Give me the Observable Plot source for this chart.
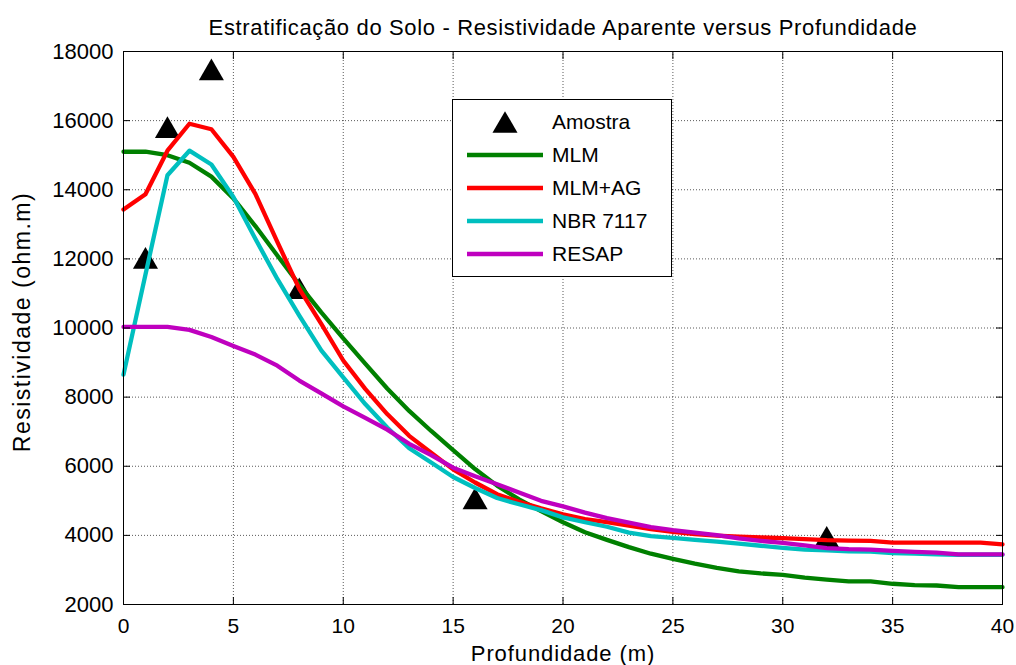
<!DOCTYPE html>
<html>
<head>
<meta charset="utf-8">
<script src="https://cdn.jsdelivr.net/npm/d3@7"></script>
<script src="https://cdn.jsdelivr.net/npm/@observablehq/plot@0.6"></script>
<style>
  body { margin: 0; background: #fff; }
  #wrap { position: relative; width: 1016px; height: 665px; overflow: hidden; }
  #legend { position: absolute; left: 452px; top: 99px; }
</style>
</head>
<body>
<div id="wrap"><div id="legend"></div></div>
<script>
// ---- data ----
const depth = [0,1,2,3,4,5,6,7,8,9,10,11,12,13,14,15,16,17,18,19,20,21,22,23,24,25,26,27,28,29,30,31,32,33,34,35,36,37,38,39,40];
const mlm = [15100,15100,15000,14780,14380,13750,12950,12100,11250,10450,9700,8970,8250,7600,7020,6470,5920,5440,5040,4700,4380,4090,3870,3660,3470,3320,3180,3060,2960,2900,2860,2780,2720,2670,2670,2600,2560,2550,2500,2500,2500];
const mlmAg = [13430,13870,15130,15910,15750,14950,13880,12490,11130,10120,9060,8240,7510,6880,6390,5910,5530,5190,4970,4780,4610,4470,4380,4280,4180,4100,4040,3990,3960,3940,3920,3890,3860,3850,3840,3790,3790,3790,3790,3790,3740];
const nbr = [8650,11550,14420,15130,14730,13790,12580,11420,10360,9350,8570,7800,7120,6520,6110,5690,5370,5080,4900,4730,4520,4380,4250,4080,3980,3930,3870,3820,3760,3700,3640,3590,3570,3540,3530,3490,3470,3450,3440,3440,3440];
const resap = [10030,10030,10030,9945,9740,9480,9230,8910,8480,8110,7730,7400,7060,6650,6320,5960,5710,5480,5240,5000,4840,4660,4500,4370,4240,4150,4080,4010,3910,3840,3780,3710,3630,3600,3590,3550,3520,3500,3450,3450,3450];
const sampleDepth = [1, 2, 4, 8, 16, 32];
const sampleRho = [12030, 15810, 17480, 11150, 5070, 3960];
const xTicks = [0,5,10,15,20,25,30,35,40];
const yTicks = [2000,4000,6000,8000,10000,12000,14000,16000,18000];
const seriesNames = ["MLM", "MLM+AG", "NBR 7117", "RESAP"];
const seriesValues = [mlm, mlmAg, nbr, resap];
const seriesColors = ["#008000", "#ff0000", "#00bfbf", "#bf00bf"];
const title = "Estratificação do Solo - Resistividade Aparente versus Profundidade";
const xLabel = "Profundidade (m)";
const yLabel = "Resistividade (ohm.m)";
const sampleName = "Amostra";

const FONT = '"Liberation Sans", Arial, Helvetica, sans-serif';

const samples = sampleDepth.map((d, i) => ({x: d, y: sampleRho[i]}));
const lineMarks = seriesValues.map((vals, k) =>
  Plot.line(depth.map((d, i) => ({x: d, y: vals[i]})), {
    x: "x", y: "y", stroke: seriesColors[k], strokeWidth: 4.3, strokeLinejoin: "round"
  })
);

const gridStyle = {stroke: "#000", strokeOpacity: 0.65, strokeDasharray: "1,2", strokeWidth: 1};

const chart = Plot.plot({
  width: 1016,
  height: 665,
  marginLeft: 123,
  marginRight: 14,
  marginTop: 51,
  marginBottom: 61,
  style: {fontFamily: FONT, fontSize: "21px", color: "#000", background: "#fff"},
  x: {domain: [0, 40]},
  y: {domain: [2000, 18000]},
  marks: [
    Plot.gridX(xTicks.slice(1, -1), gridStyle),
    Plot.gridY(yTicks.slice(1, -1), gridStyle),
    Plot.dot(samples, {x: "x", y: "y", symbol: "triangle", r: 9.3, fill: "#000", stroke: null, dy: 3.6}),
    ...lineMarks,
    Plot.frame({stroke: "#000", strokeWidth: 1}),
    Plot.axisX(xTicks, {anchor: "bottom", tickSize: -7, tickPadding: 21, label: null, fontSize: 21}),
    Plot.axisX(xTicks, {anchor: "top", tickSize: -7, tickFormat: () => "", label: null}),
    Plot.axisY(yTicks, {anchor: "left", tickSize: -7, tickPadding: 17, label: null, fontSize: 22, tickFormat: d => String(d)}),
    Plot.axisY(yTicks, {anchor: "right", tickSize: -7, tickFormat: () => "", label: null}),
    Plot.text([title], {text: d => d, frameAnchor: "top", dy: -24, fontSize: 22, lineAnchor: "middle", textAnchor: "middle"}),
    Plot.text([xLabel], {text: d => d, frameAnchor: "bottom", dy: 49, fontSize: 22, lineAnchor: "middle", textAnchor: "middle"}),
    Plot.text([yLabel], {text: d => d, frameAnchor: "left", dx: -101, dy: -6, rotate: -90, fontSize: 23, lineAnchor: "middle", textAnchor: "middle"})
  ]
});
document.getElementById("wrap").prepend(chart);

// letter spacing to match the reference's wide text rendering
d3.select(chart).selectAll("text").each(function() {
  const t = this.textContent;
  if (t === title) d3.select(this).attr("letter-spacing", "0.65px");
  if (t === yLabel) d3.select(this).attr("letter-spacing", "1.5px");
  if (t === xLabel) d3.select(this).attr("letter-spacing", "0.9px");
});

// ---- legend ----
const W = 220, H = 178;
const lg = d3.select("#legend").append("svg").attr("width", W).attr("height", H)
  .style("display", "block").style("font-family", FONT);
lg.append("rect").attr("x", 0.5).attr("y", 0.5).attr("width", W - 1).attr("height", H - 1)
  .attr("fill", "#fff").attr("stroke", "#000").attr("stroke-width", 1);
const rowY = i => 23 + 33 * i;
lg.append("path").attr("d", d3.symbol(d3.symbolTriangle, Math.PI * 9.3 * 9.3)())
  .attr("transform", `translate(53,${rowY(0) + 3.6})`).attr("fill", "#000");
lg.append("text").attr("x", 100).attr("y", rowY(0)).attr("dy", "0.35em").attr("font-size", 21).text(sampleName);
seriesNames.forEach((name, k) => {
  lg.append("line").attr("x1", 15).attr("x2", 91).attr("y1", rowY(k + 1)).attr("y2", rowY(k + 1))
    .attr("stroke", seriesColors[k]).attr("stroke-width", 4.3);
  lg.append("text").attr("x", 100).attr("y", rowY(k + 1)).attr("dy", "0.35em").attr("font-size", 21).text(name);
});
</script>
</body>
</html>
